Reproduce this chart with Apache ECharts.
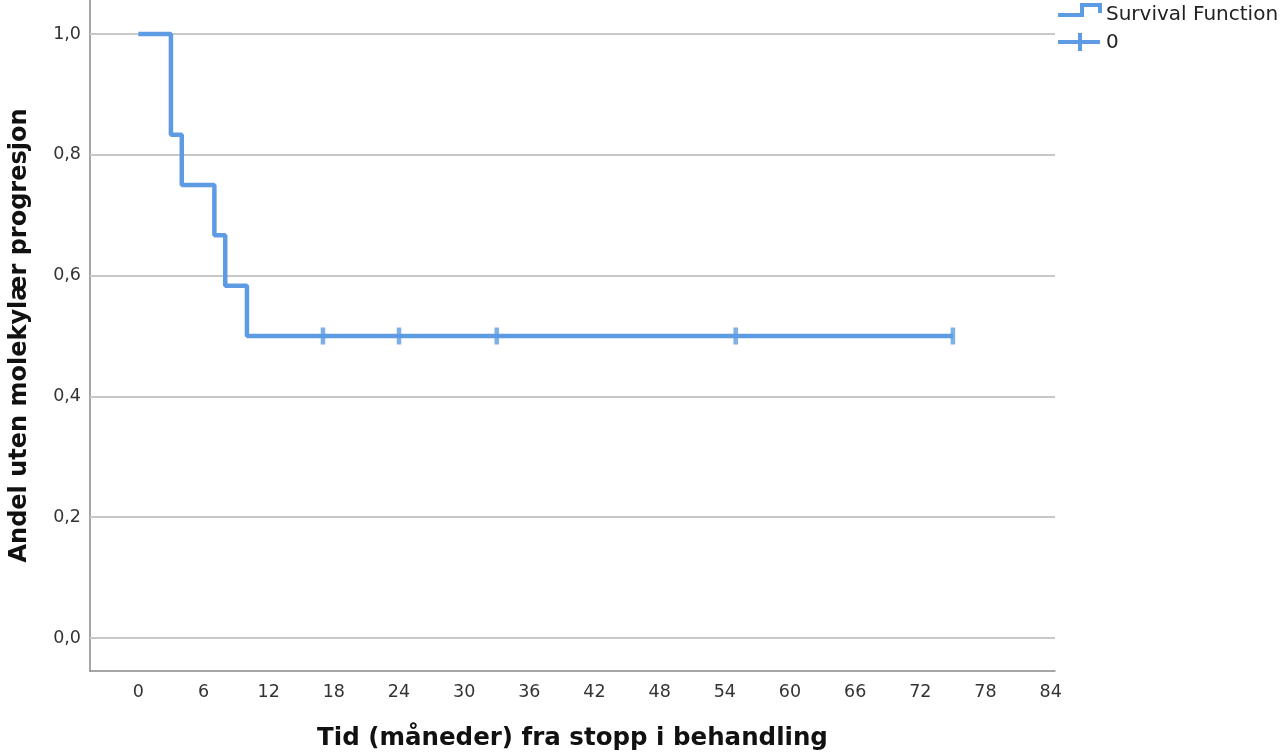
<!DOCTYPE html>
<html><head><meta charset="utf-8">
<script src="https://cdn.jsdelivr.net/npm/echarts@6/dist/echarts.min.js"></script>
<style>html,body{margin:0;padding:0;background:#fff}#c{width:1287px;height:756px}</style>
</head><body><div id="c"></div>
<script>
// Kaplan-Meier step data
const times = [0, 3, 4, 7, 8, 10, 75];
const survival = [1.0, 0.8333, 0.75, 0.6667, 0.5833, 0.5, 0.5];
// censored observations
const censorTimes = [17, 24, 33, 55, 75];
const censorValues = [0.5, 0.5, 0.5, 0.5, 0.5];
// tick labels
const xTicks = [0, 6, 12, 18, 24, 30, 36, 42, 48, 54, 60, 66, 72, 78, 84];
const yTicks = [0, 0.2, 0.4, 0.6, 0.8, 1.0];

const FONT = 'DejaVu Sans';
const BLUE = '#5d9be3';

const chart = echarts.init(document.getElementById('c'));
const option = {
  backgroundColor: '#fff',
  animation: false,
  grid: { left: 90, right: 232, top: 0, bottom: 85 },
  xAxis: {
    type: 'value', min: -4.45, max: 84.4,
    name: 'Tid (måneder) fra stopp i behandling',
    nameLocation: 'middle', nameGap: 55,
    nameTextStyle: { fontFamily: FONT, fontWeight: 'bold', fontSize: 24.5, color: '#111' },
    axisLine: { show: true, onZero: false, lineStyle: { color: '#888', width: 1.5 } },
    axisTick: { show: false, customValues: xTicks },
    axisLabel: { customValues: xTicks, margin: 12, fontFamily: FONT, fontSize: 17.5, color: '#333' },
    splitLine: { show: false }
  },
  yAxis: {
    type: 'value', min: -0.0546, max: 1.0563,
    name: 'Andel uten molekylær progresjon',
    nameLocation: 'middle', nameGap: 58,
    nameTextStyle: { fontFamily: FONT, fontWeight: 'bold', fontSize: 24, color: '#111' },
    axisLine: { show: true, onZero: false, lineStyle: { color: '#888', width: 1.5 } },
    axisTick: { show: false, customValues: yTicks },
    axisLabel: { customValues: yTicks, margin: 9, fontFamily: FONT, fontSize: 17.5, color: '#333',
      formatter: v => v.toFixed(1).replace('.', ',') },
    splitLine: { show: false }
  },
  series: [
    {
      name: 'grid', type: 'line', data: [], z: 1, silent: true,
      markLine: {
        silent: true, symbol: 'none', z: 1, label: { show: false },
        lineStyle: { color: '#c8c8c8', width: 2, type: 'solid' },
        data: yTicks.map(v => ({ yAxis: v }))
      }
    },
    {
      name: 'Survival Function', type: 'line', step: 'end', z: 3,
      data: times.map((t, i) => [t, survival[i]]),
      showSymbol: false, symbol: 'none',
      lineStyle: { color: BLUE, width: 4.5 }
    },
    {
      name: '0', type: 'scatter', z: 4,
      data: censorTimes.map((t, i) => [t, censorValues[i]]),
      symbol: 'rect', symbolSize: [4.5, 17],
      itemStyle: { color: BLUE }
    }
  ],
  graphic: [
    { type: 'polyline', shape: { points: [[1058, 15], [1082, 15], [1082, 5], [1100, 5], [1100, 13]] },
      style: { stroke: BLUE, lineWidth: 4, fill: null } },
    { type: 'text', x: 1106, y: 15, style: { text: 'Survival Function', fontFamily: FONT, fontSize: 20, fill: '#222', verticalAlign: 'middle' } },
    { type: 'line', shape: { x1: 1058, y1: 42, x2: 1100, y2: 42 }, style: { stroke: BLUE, lineWidth: 4 } },
    { type: 'line', shape: { x1: 1080, y1: 33, x2: 1080, y2: 51 }, style: { stroke: BLUE, lineWidth: 4 } },
    { type: 'text', x: 1106, y: 43, style: { text: '0', fontFamily: FONT, fontSize: 20, fill: '#222', verticalAlign: 'middle' } }
  ]
};
chart.setOption(option);
</script>
</body></html>
